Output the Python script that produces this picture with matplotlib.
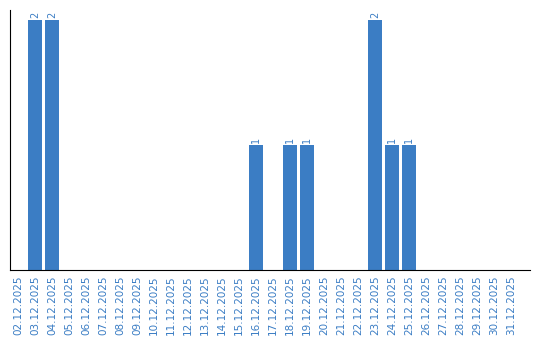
import matplotlib
matplotlib.use("Agg")
import matplotlib.pyplot as plt

dates = ["%02d.12.2025" % d for d in range(2, 32)]
counts = [0, 2, 2, 0, 0, 0, 0, 0, 0, 0, 0, 0, 0, 0, 1, 0, 1, 1, 0, 0, 0, 2, 1, 1, 0, 0, 0, 0, 0, 0]

blue = "#3b7dc4"

fig = plt.figure(figsize=(5.4, 3.4), dpi=100)
ax = fig.add_axes([10 / 540, 70 / 340, 520 / 540, 260 / 340])

x = list(range(len(dates)))
bars = ax.bar(x, counts, width=0.82, color=blue)
for xi, c in zip(x, counts):
    if c > 0:
        ax.text(xi, c + 0.02, str(c), rotation=90, ha="center", va="bottom",
                color=blue, fontsize=7)

ax.set_xlim(-0.47, len(dates) - 1 + 1.12)
ax.set_ylim(0, 2.08)
ax.set_xticks(x)
ax.set_xticklabels(dates, rotation=90, fontsize=7.5, color=blue)
ax.tick_params(axis="x", length=0, pad=4)
ax.set_yticks([])
ax.spines["top"].set_visible(False)
ax.spines["right"].set_visible(False)

fig.savefig("out.png", dpi=100)
